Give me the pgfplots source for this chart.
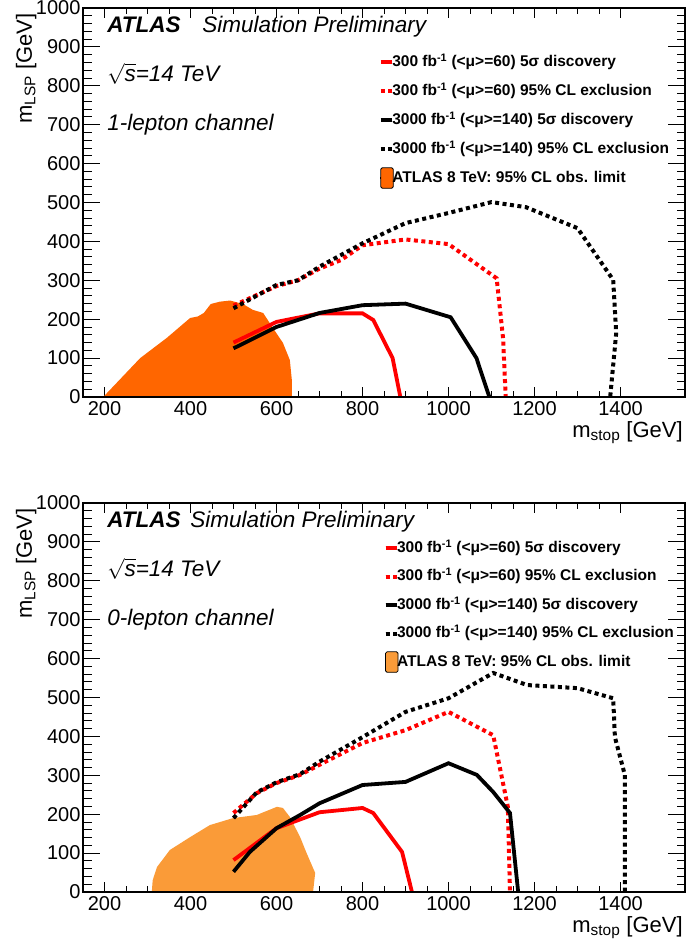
\documentclass[border=0pt]{standalone}
\usepackage{fontspec}
\setmainfont{Liberation Sans}
\usepackage{pgfplots}
\pgfplotsset{compat=1.18}
\definecolor{rred}{RGB}{255,0,0}
\definecolor{orangeA}{RGB}{255,102,0}
\definecolor{orangeB}{RGB}{250,155,56}
\tikzset{
  disc/.style={line width=3.8pt},
  excl/.style={line width=4pt, dash pattern=on 4pt off 3.5pt},
  ann/.style={font=\fontsize{22.5}{26}\selectfont\itshape, anchor=base west, inner sep=0pt},
}
\pgfplotsset{
  panel/.style={
    scale only axis, width=602pt, height=389pt, anchor=south west,
    xmin=150, xmax=1550, ymin=0, ymax=1000,
    axis line style={line width=1.3pt},
    /pgf/number format/assume math mode=true,
    /pgf/number format/1000 sep={},
    tick label style={font=\fontsize{20}{24}\selectfont},
    every tick/.style={black, line width=0.9pt},
    tick align=inside,
  },
  mainp/.style={panel,
    xtick={200,400,...,1400}, minor x tick num=3,
    ytick={0,100,...,1000}, minor y tick num=0,
    ytick style={draw=none},
    major tick length=10pt, minor tick length=6pt,
    xticklabel style={yshift=-1pt},
    yticklabel style={xshift=1pt},
    label style={font=\fontsize{22}{26}\selectfont},
    xlabel={m\textsubscript{stop} [GeV]},
    ylabel={m\textsubscript{LSP} [GeV]},
    xlabel style={at={(rel axis cs:1.002,-0.105)}, anchor=base east},
    ylabel style={at={(rel axis cs:-0.085,0.995)}, anchor=base east},
    legend cell align=left,
    legend image code/.code={\path (0pt,0pt) -- (9.5pt,0pt);
       \draw[##1, overlay] (0pt,0pt) -- (11.5pt,0pt);},
  },
  ovl/.style={panel,
    xtick=\empty, ytick={0,100,...,1000}, minor y tick num=4,
    yticklabels=\empty,
    major tick length=17pt, minor tick length=8.5pt,
  },
  boxlegend/.style={legend image code/.code={\path (0pt,0pt) rectangle (10.5pt,1pt);
     \draw[##1, rounded corners=1.5pt, overlay] (0pt,-10pt) rectangle (12.5pt,10.5pt);}},
}
\begin{document}
\begin{tikzpicture}
% ---------------- top panel: 1-lepton ----------------
\begin{axis}[mainp, at={(83pt,550pt)},
  legend style={at={(rel axis cs:0.491,0.879)}, anchor=north west, draw=none, fill=none,
    inner sep=0pt, row sep=15.0pt,
    font=\bfseries\fontsize{15.5}{18}\selectfont,
    nodes={inner sep=0pt, text height=11pt, text depth=3pt}}]
\addplot[fill=orangeA, draw=none, forget plot] coordinates {
 (197,0) (240,50) (283,100) (345,152) (399,203) (417,207) (431,216) (447,239)
 (468,245) (492,248) (522,239) (545,224) (569,216) (592,177) (615,139) (631,95)
 (636,40) (636,0)} -- cycle;
\addplot[disc, rred] coordinates {
 (500,140) (600,193) (700,215) (800,215) (825,198) (870,100) (888,0)};
\addlegendentry{300 fb\textsuperscript{-1} (<μ>=60) 5σ discovery}
\addplot[excl, rred] coordinates {
 (500,235) (600,285) (650,300) (700,330) (750,352) (800,390) (900,405)
 (1000,393) (1112,305) (1127,150) (1133,0)};
\addlegendentry{300 fb\textsuperscript{-1} (<μ>=60) 95\% CL exclusion}
\addplot[disc, black] coordinates {
 (500,125) (600,180) (700,216) (800,236) (900,240) (1005,205) (1065,100) (1095,0)};
\addlegendentry{3000 fb\textsuperscript{-1} (<μ>=140) 5σ discovery}
\addplot[excl, black] coordinates {
 (500,228) (600,288) (650,300) (700,335) (800,395) (900,447) (1000,473)
 (1100,501) (1180,488) (1300,434) (1383,301) (1390,164) (1376,0)};
\addlegendentry{3000 fb\textsuperscript{-1} (<μ>=140) 95\% CL exclusion}
\addlegendimage{boxlegend, fill=orangeA, draw=black, line width=0.8pt}
\addlegendentry{ATLAS 8 TeV: 95\% CL obs. limit}
\node[ann] at (rel axis cs:0.040,0.936) {\bfseries ATLAS};
\node[ann] at (rel axis cs:0.198,0.936) {Simulation Preliminary};
\node[ann] at (rel axis cs:0.040,0.812) {\(\sqrt{\mbox{\itshape s}}\)=14 TeV};
\node[ann] at (rel axis cs:0.040,0.684) {1-lepton channel};
\end{axis}
\begin{axis}[ovl, at={(83pt,550pt)}]
\end{axis}
% ---------------- bottom panel: 0-lepton ----------------
\begin{axis}[mainp, at={(83pt,55pt)},
  legend style={at={(rel axis cs:0.499,0.902)}, anchor=north west, draw=none, fill=none,
    inner sep=0pt, row sep=14.5pt,
    font=\bfseries\fontsize{15.5}{18}\selectfont,
    nodes={inner sep=0pt, text height=11pt, text depth=3pt}}]
\addplot[fill=orangeB, draw=none, forget plot] coordinates {
 (310,0) (312,30) (322,64) (352,108) (399,141) (445,172) (499,190) (554,198)
 (601,219) (615,216) (631,193) (655,141) (670,100) (690,49) (685,0)} -- cycle;
\addplot[disc, rred] coordinates {
 (500,82) (600,164) (700,205) (800,216) (825,203) (892,103) (915,0)};
\addlegendentry{300 fb\textsuperscript{-1} (<μ>=60) 5σ discovery}
\addplot[excl, rred] coordinates {
 (500,203) (554,254) (600,280) (655,301) (700,327) (800,383) (900,416)
 (1000,463) (1104,403) (1138,219) (1143,0)};
\addlegendentry{300 fb\textsuperscript{-1} (<μ>=60) 95\% CL exclusion}
\addplot[disc, black] coordinates {
 (500,52) (538,103) (600,164) (655,198) (700,228) (800,275) (900,283)
 (1000,331) (1066,301) (1104,257) (1143,203) (1162,0)};
\addlegendentry{3000 fb\textsuperscript{-1} (<μ>=140) 5σ discovery}
\addplot[excl, black] coordinates {
 (500,190) (554,256) (600,282) (655,303) (700,335) (800,398) (900,463)
 (1000,498) (1104,563) (1183,532) (1300,524) (1383,498) (1387,398) (1410,301) (1410,0)};
\addlegendentry{3000 fb\textsuperscript{-1} (<μ>=140) 95\% CL exclusion}
\addlegendimage{boxlegend, fill=orangeB, draw=black, line width=0.8pt}
\addlegendentry{ATLAS 8 TeV: 95\% CL obs. limit}
\node[ann] at (rel axis cs:0.040,0.938) {\bfseries ATLAS};
\node[ann] at (rel axis cs:0.178,0.938) {Simulation Preliminary};
\node[ann] at (rel axis cs:0.040,0.812) {\(\sqrt{\mbox{\itshape s}}\)=14 TeV};
\node[ann] at (rel axis cs:0.040,0.686) {0-lepton channel};
\end{axis}
\begin{axis}[ovl, at={(83pt,55pt)}]
\end{axis}
\pgfresetboundingbox
\useasboundingbox (0pt,0pt) rectangle (688pt,947pt);
\end{tikzpicture}
\end{document}
